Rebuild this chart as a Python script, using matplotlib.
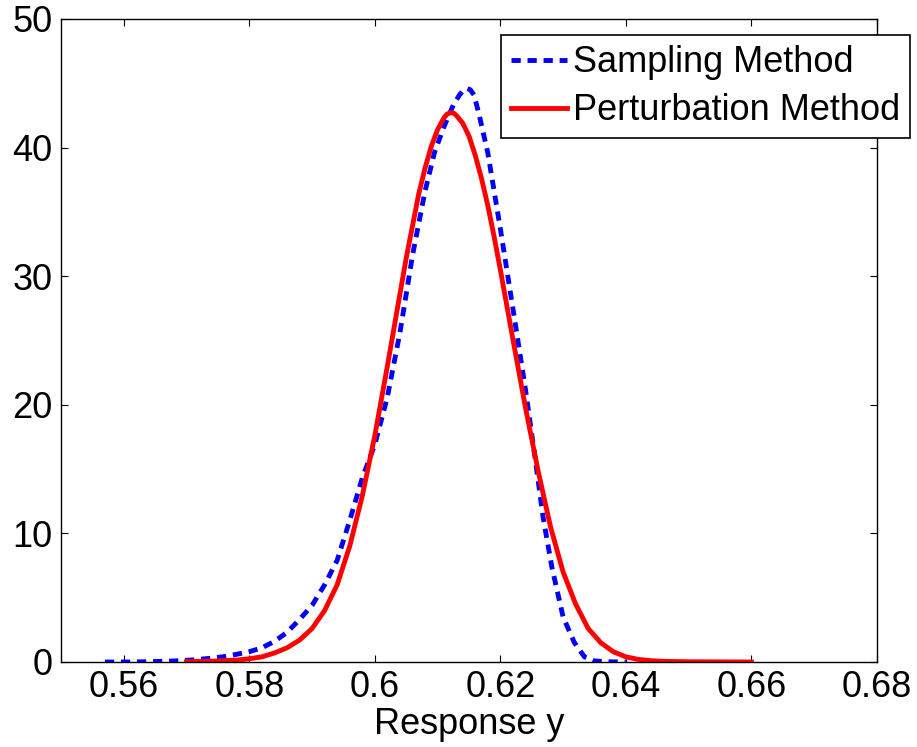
import matplotlib
matplotlib.use("Agg")
from matplotlib import pyplot as plt

# Sampling method (density estimate)
sampling_x = [0.557, 0.560, 0.564, 0.568, 0.571, 0.574, 0.576, 0.578, 0.580, 0.582,
              0.584, 0.586, 0.588, 0.590, 0.592, 0.594, 0.596, 0.598, 0.600, 0.602,
              0.604, 0.606, 0.608, 0.6095, 0.611, 0.6125, 0.6135, 0.6142, 0.6147, 0.6152,
              0.6158, 0.6165, 0.618, 0.620, 0.622, 0.624, 0.6255, 0.6268, 0.6282, 0.630,
              0.6318, 0.6334, 0.635, 0.637, 0.640]
sampling_y = [0.0, 0.0, 0.02, 0.08, 0.16, 0.3, 0.42, 0.6, 0.8, 1.1,
              1.6, 2.3, 3.3, 4.4, 6.0, 7.9, 11.0, 14.3, 16.9, 20.6,
              25.6, 31.6, 36.6, 39.6, 41.6, 43.3, 44.1, 44.5, 44.6, 44.5,
              44.1, 42.8, 39.6, 33.7, 27.5, 21.2, 16.0, 11.3, 7.4, 3.5,
              1.5, 0.4, 0.08, 0.02, 0.0]

# Perturbation method
perturb_x = [0.570, 0.574, 0.578, 0.580, 0.582, 0.584, 0.586, 0.588, 0.590, 0.592,
             0.594, 0.596, 0.598, 0.600, 0.602, 0.604, 0.605, 0.606, 0.607, 0.608,
             0.609, 0.610, 0.611, 0.6115, 0.612, 0.6125, 0.613, 0.614, 0.615, 0.616,
             0.617, 0.618, 0.619, 0.620, 0.622, 0.624, 0.626, 0.628, 0.630, 0.632,
             0.634, 0.636, 0.638, 0.640, 0.642, 0.644, 0.646, 0.650, 0.655, 0.660]
perturb_y = [0.02, 0.06, 0.15, 0.25, 0.4, 0.7, 1.1, 1.7, 2.6, 4.0,
             6.0, 9.0, 12.9, 17.6, 23.0, 28.6, 31.4, 33.9, 36.4, 38.4,
             40.1, 41.4, 42.3, 42.6, 42.7, 42.7, 42.5, 41.9, 40.9, 39.4,
             37.6, 35.5, 33.1, 30.5, 25.1, 19.8, 14.9, 10.5, 7.0, 4.5,
             2.6, 1.5, 0.8, 0.4, 0.2, 0.1, 0.05, 0.02, 0.01, 0.0]

x_ticks = [0.56, 0.58, 0.6, 0.62, 0.64, 0.66, 0.68]
x_tick_labels = ['0.56', '0.58', '0.6', '0.62', '0.64', '0.66', '0.68']
y_ticks = [0, 10, 20, 30, 40, 50]

plt.rcParams['font.family'] = ['Liberation Sans', 'DejaVu Sans']

fig = plt.figure(figsize=(9.17, 7.47), dpi=100)
ax = fig.add_axes([0.0665, 0.1138, 0.8898, 0.8608])

ax.plot(sampling_x, sampling_y, color='blue', linewidth=3.5,
        linestyle=(0, (1.9, 1.4)), label='Sampling Method')
ax.plot(perturb_x, perturb_y, color='red', linewidth=3.5, label='Perturbation Method')

ax.set_xlim(0.55, 0.68)
ax.set_ylim(0, 50)
ax.set_xticks(x_ticks)
ax.set_xticklabels(x_tick_labels)
ax.set_yticks(y_ticks)
ax.tick_params(direction='in', length=5, width=0.8, top=True, right=True,
               labelsize=26)
ax.tick_params(axis='x', pad=6)
ax.tick_params(axis='y', pad=6)
for spine in ax.spines.values():
    spine.set_linewidth(1.0)
ax.set_xlabel('Response y', fontsize=26, labelpad=1)

leg = ax.legend(loc='upper left', bbox_to_anchor=(0.539, 0.975), fontsize=26,
                frameon=True, fancybox=False, framealpha=1, edgecolor='black',
                handlelength=1.55, handletextpad=0.17, borderpad=0.28,
                labelspacing=0.36, borderaxespad=0)
leg.get_frame().set_linewidth(1.2)

fig.savefig('out.png', dpi=100)
